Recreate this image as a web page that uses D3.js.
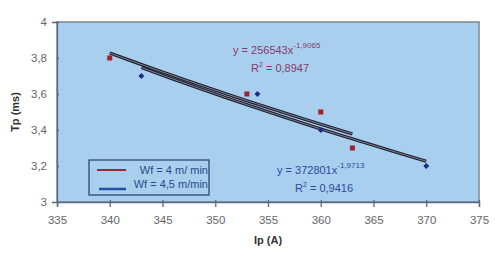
<!DOCTYPE html>
<html>
<head>
  <script src="https://d3js.org/d3.v7.min.js"></script>
  <style>
    body { margin: 0; background: #fff; }
    text { font-family: "Liberation Sans", Arial, sans-serif; }
    .tick text { fill: #666; font-size: 11.5px; }
  </style>
</head>
<body>
  <svg width="495" height="257"></svg>
  <script>
    // data
    const ipRed = [340, 353, 360, 363];
    const tpRed = [3.8, 3.6, 3.5, 3.3];
    const ipBlue = [343, 354, 360, 370];
    const tpBlue = [3.7, 3.6, 3.4, 3.2];
    // power trendlines y = a * x^b, as printed on the chart
    const fitRed = { a: 256543, b: -1.9065, from: 340, to: 363 };
    const fitBlue = { a: 372801, b: -1.9713, from: 343, to: 370 };
    const xTicks = [335, 340, 345, 350, 355, 360, 365, 370, 375];
    const yTicks = [3, 3.2, 3.4, 3.6, 3.8, 4];

    const svg = d3.select("svg");
    const x = d3.scaleLinear().domain([335, 375]).range([57, 479]);
    const y = d3.scaleLinear().domain([3, 4]).range([202, 22]);

    // plot background
    svg.append("rect")
      .attr("x", 57).attr("y", 22)
      .attr("width", 422).attr("height", 180)
      .attr("fill", "#a9cfee")
      .attr("stroke", "#7f8790").attr("stroke-width", 1.5);

    const fmt = d => String(d).replace(".", ",");

    const xAxis = svg.append("g")
      .attr("transform", "translate(0,202)")
      .call(d3.axisBottom(x).tickValues(xTicks).tickFormat(fmt).tickSize(5).tickPadding(9));
    const yAxis = svg.append("g")
      .attr("transform", "translate(57,0)")
      .call(d3.axisLeft(y).tickValues(yTicks).tickFormat(fmt).tickSize(5).tickPadding(5));
    svg.selectAll(".domain, .tick line").attr("stroke", "#5a6a85").attr("stroke-width", 1.3);
    yAxis.selectAll(".tick line").attr("x2", 2);
    xAxis.selectAll(".tick line").attr("y1", -2);

    // trendlines
    function trend(f) {
      const pts = d3.range(0, 11).map(i => {
        const xv = f.from + (f.to - f.from) * i / 10;
        return [xv, f.a * Math.pow(xv, f.b)];
      });
      const line = d3.line().x(d => x(d[0])).y(d => y(d[1]));
      svg.append("path").attr("d", line(pts))
        .attr("fill", "none").attr("stroke", "#1c2030").attr("stroke-width", 3.2);
      svg.append("path").attr("d", line(pts))
        .attr("fill", "none").attr("stroke", "#8d8a9a").attr("stroke-width", 0.9);
    }
    trend(fitBlue);
    trend(fitRed);

    // points
    svg.selectAll(".red").data(ipRed).enter().append("rect")
      .attr("x", d => x(d) - 2.5).attr("y", (d, i) => y(tpRed[i]) - 2.5)
      .attr("width", 5).attr("height", 5).attr("fill", "#a02030");
    svg.selectAll(".blue").data(ipBlue).enter().append("path")
      .attr("d", d3.symbol(d3.symbolSquare, 18))
      .attr("transform", (d, i) => `translate(${x(d)},${y(tpBlue[i])}) rotate(45)`)
      .attr("fill", "#1f2a8a");

    // equation labels
    function eq(px, py, coef, expo, r2, color) {
      const t = svg.append("text").attr("x", px).attr("y", py)
        .attr("fill", color).attr("font-size", 11);
      t.append("tspan").text("y = " + coef + "x");
      t.append("tspan").attr("dy", -6).attr("font-size", 8).text(expo);
      const r = svg.append("text").attr("x", px + 18).attr("y", py + 18)
        .attr("fill", color).attr("font-size", 11);
      r.append("tspan").text("R");
      r.append("tspan").attr("dy", -5).attr("font-size", 7).text("2");
      r.append("tspan").attr("dy", 5).text(" = " + r2);
    }
    eq(233, 54, "256543", "-1,9065", "0,8947", "#8a3a6a");
    eq(277, 174, "372801", "-1,9713", "0,9416", "#2a4aa0");

    // legend
    svg.append("rect").attr("x", 89).attr("y", 160)
      .attr("width", 120).attr("height", 35)
      .attr("fill", "#a9cfee").attr("stroke", "#2a3a6a").attr("stroke-width", 1.2);
    svg.append("line").attr("x1", 97).attr("x2", 126).attr("y1", 170).attr("y2", 170)
      .attr("stroke", "#9a2a3a").attr("stroke-width", 2);
    svg.append("line").attr("x1", 99).attr("x2", 126).attr("y1", 189).attr("y2", 189)
      .attr("stroke", "#2050a8").attr("stroke-width", 2.5);
    svg.append("text").attr("x", 208).attr("y", 174).attr("text-anchor", "end")
      .attr("font-size", 11).attr("fill", "#2a4a8a").text("Wf = 4 m/ min");
    svg.append("text").attr("x", 208).attr("y", 188).attr("text-anchor", "end")
      .attr("font-size", 11).attr("fill", "#2a4a8a").text("Wf = 4,5 m/min");

    // axis titles
    svg.append("text").attr("x", 268).attr("y", 244).attr("text-anchor", "middle")
      .attr("font-size", 11).attr("font-weight", "bold").attr("fill", "#333").text("Ip (A)");
    svg.append("text").attr("transform", "translate(19,112) rotate(-90)")
      .attr("text-anchor", "middle").attr("font-size", 11).attr("font-weight", "bold")
      .attr("fill", "#333").text("Tp (ms)");
  </script>
</body>
</html>
